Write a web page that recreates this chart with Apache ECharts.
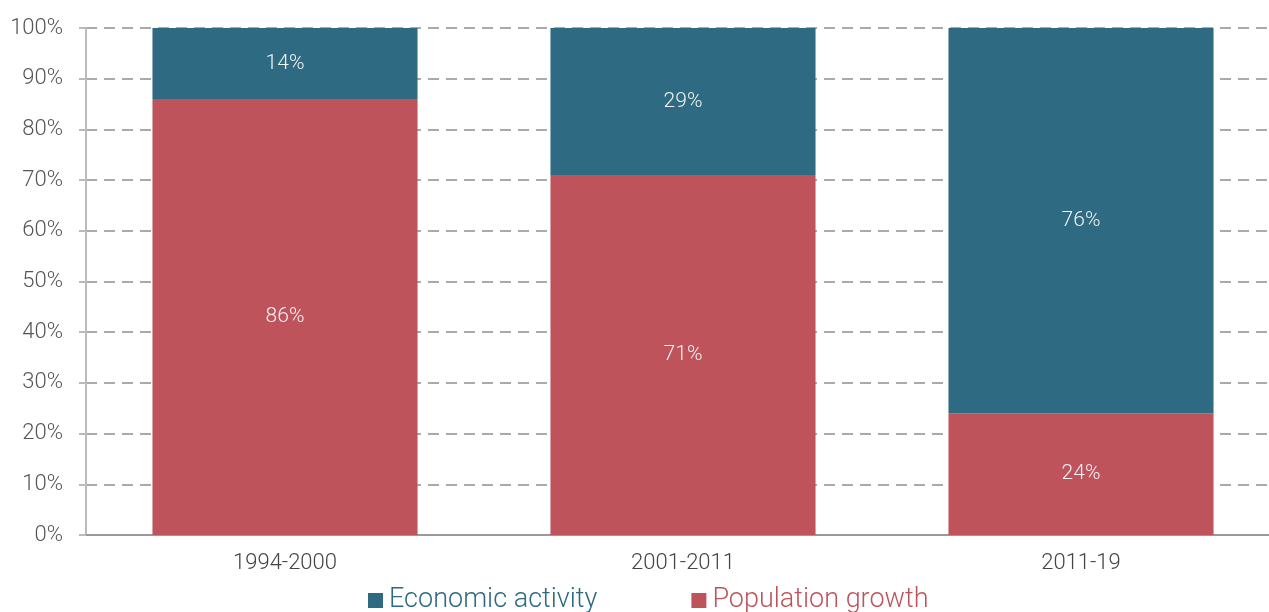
<!DOCTYPE html>
<html>
<head>
<meta charset="utf-8">
<style>
  html, body { margin: 0; padding: 0; background: #fff; overflow: hidden; }
  /* 그리드가 오른쪽 화면 밖까지 이어지도록 폭을 조금 넓게 */
  #chart { width: 1280px; height: 612px; }
</style>
<script src="https://cdn.jsdelivr.net/npm/echarts@6/dist/echarts.min.js"></script>
</head>
<body>
<div id="chart"></div>
<script>
// 데이터
const periods = ['1994-2000', '2001-2011', '2011-19'];
const populationGrowth = [86, 71, 24];
const economicActivity = [14, 29, 76];

const RED = '#be535c';
const TEAL = '#2e6a82';
const FONT = 'Roboto';

const chart = echarts.init(document.getElementById('chart'));

const barLabel = {
    show: true,
    position: 'inside',
    formatter: '{c}%',
    color: '#f2f2f2',
    fontSize: 21,
    fontWeight: 300,
    fontFamily: FONT
};

chart.setOption({
    animation: false,
    textStyle: { fontFamily: FONT },
    grid: { left: 86, right: 0, top: 28, bottom: 77 },
    legend: {
        left: 363,
        bottom: -7,
        itemWidth: 15,
        itemHeight: 15,
        itemGap: 94,
        icon: 'rect',
        data: [
            { name: 'Economic activity', textStyle: { color: TEAL } },
            { name: 'Population growth', textStyle: { color: RED } }
        ],
        textStyle: { fontSize: 27, fontWeight: 300, fontFamily: FONT, padding: [0, 0, 0, 1] }
    },
    xAxis: {
        type: 'category',
        data: periods,
        axisLine: { lineStyle: { color: '#999', width: 2 } },
        axisTick: { show: false },
        axisLabel: { color: '#444', fontSize: 22, fontWeight: 300, margin: 17 }
    },
    yAxis: {
        type: 'value',
        min: 0,
        max: 100,
        interval: 10,
        axisLine: { show: true, lineStyle: { color: '#bbb', width: 2 } },
        axisTick: { show: true, length: 7, lineStyle: { color: '#bbb', width: 2 } },
        axisLabel: { formatter: '{value}%', color: '#555', fontSize: 22, fontWeight: 300, margin: 23 },
        splitLine: { lineStyle: { color: '#aaa', width: 2, type: [11, 7] } }
    },
    series: [
        {
            name: 'Population growth',
            type: 'bar',
            stack: 'total',
            barWidth: '66.6%',
            data: populationGrowth,
            itemStyle: { color: RED },
            label: barLabel
        },
        {
            name: 'Economic activity',
            type: 'bar',
            stack: 'total',
            barWidth: '66.6%',
            data: economicActivity,
            itemStyle: { color: TEAL },
            label: barLabel
        }
    ]
});
</script>
</body>
</html>
